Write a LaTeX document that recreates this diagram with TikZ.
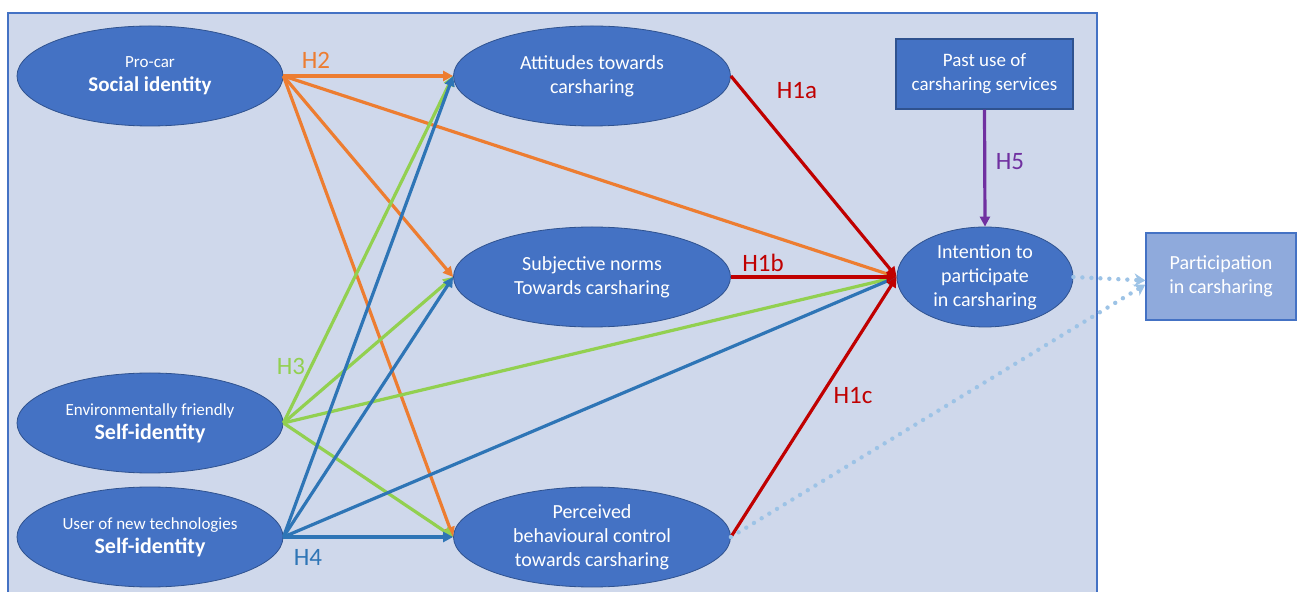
\documentclass[tikz,border=0pt]{standalone}
\usepackage{fontspec}
\setmainfont{Carlito}
\usepackage{xcolor}
\usepackage{tikz}
\usetikzlibrary{shapes.geometric,arrows.meta}

\definecolor{bgblue}{HTML}{CFD8EB}
\definecolor{nodeblue}{HTML}{4472C4}
\definecolor{edgeblue}{HTML}{2F528F}
\definecolor{lightbox}{HTML}{8FAADC}
\definecolor{hyporange}{HTML}{ED7D31}
\definecolor{hypgreen}{HTML}{92D050}
\definecolor{hypblue}{HTML}{2E75B6}
\definecolor{hypred}{HTML}{C00000}
\definecolor{hyppurple}{HTML}{7030A0}
\definecolor{dotblue}{HTML}{9DC3E6}

\begin{document}
\begin{tikzpicture}[x=0.5pt,y=-0.5pt,
        construct/.style={ellipse, fill=nodeblue, draw=edgeblue, line width=0.4pt, text=white,
            align=center, inner sep=0pt, minimum width=133pt, minimum height=50pt,
            font=\fontsize{10}{12}\selectfont},
        boxnode/.style={rectangle, fill=nodeblue, draw=edgeblue, line width=0.6pt, text=white,
            align=center, inner sep=0pt, font=\fontsize{9.5}{12}\selectfont},
        hyp/.style={-{Triangle[length=5pt,width=5pt]}, line width=1.6pt},
        hyplabel/.style={font=\fontsize{12.5}{14}\selectfont, inner sep=0pt},
        dotarrow/.style={-{Stealth[length=5.5pt,width=6.5pt]}, dotblue, line width=2.2pt,
            line cap=round, dash pattern=on 0pt off 4.5pt}]

        % Page size and background panel
        \useasboundingbox (0,0) rectangle (1300,592);
        \draw[fill=bgblue, draw=nodeblue, line width=0.6pt] (8,13) rectangle (1097,610);

        % Identity constructs (left column)
        \node[construct] (SI) at (150,76) {\fontsize{8.5}{11}\selectfont Pro-car\\{\fontsize{10.5}{11}\selectfont\bfseries Social identity}};
        \node[construct] (EF) at (150,423) {\fontsize{8.5}{11}\selectfont Environmentally friendly\\{\fontsize{11}{11}\selectfont\bfseries Self-identity}};
        \node[construct] (UT) at (150,537) {\fontsize{8.5}{11}\selectfont User of new technologies\\{\fontsize{11}{11}\selectfont\bfseries Self-identity}};

        % TPB constructs (middle column)
        \node[construct, minimum width=138.5pt] (AT) at (592,76) {Attitudes towards\\carsharing};
        \node[construct, minimum width=138.5pt] (SN) at (592,277) {Subjective norms\\Towards carsharing};
        \node[construct, minimum width=138.5pt] (PBC) at (592,537) {Perceived\\behavioural control\\towards carsharing};

        % Intention, past use and behaviour
        \node[construct, minimum width=88pt] (IN) at (985,277) {Intention to\\participate\\in carsharing};
        \node[boxnode, minimum width=88.5pt, minimum height=35pt] (PU) at (984.5,74) {Past use of\\carsharing services};
        \node[boxnode, fill=lightbox, draw=nodeblue, minimum width=75pt, minimum height=43.5pt,
            font=\fontsize{10}{12}\selectfont] (PC) at (1221,276.5) {Participation\\in carsharing};

        % Hypotheses H2, H3, H4
        \foreach \target in {AT, SN, IN, PBC} {
            \draw[hyp, hyporange] (SI.east) -- (\target.west);
        }
        \foreach \target in {AT, SN, IN, PBC} {
            \draw[hyp, hypgreen] (EF.east) -- (\target.west);
        }
        \foreach \target in {AT, SN, IN, PBC} {
            \draw[hyp, hypblue] (UT.east) -- (\target.west);
        }

        % Hypotheses H1a-H1c and H5
        \foreach \source in {AT, SN, PBC} {
            \draw[hyp, hypred] (\source.east) -- (IN.west);
        }
        \draw[hyp, hyppurple] (PU.south) -- (IN.north);

        % Dotted links to behaviour
        \draw[dotarrow] (IN.east) -- ([yshift=-2pt]PC.west);
        \draw[dotarrow] (PBC.east) -- ([yshift=-4pt]PC.west);

        % Hypothesis labels
        \node[hyplabel, text=hyporange] (lH2) at (316,60) {H2};
        \node[hyplabel, text=hypgreen] (lH3) at (291,366) {H3};
        \node[hyplabel, text=hypblue] (lH4) at (308,557) {H4};
        \node[hyplabel, text=hypred] (lH1a) at (797,91) {H1a};
        \node[hyplabel, text=hypred] (lH1b) at (763,263) {H1b};
        \node[hyplabel, text=hypred] (lH1c) at (853,396) {H1c};
        \node[hyplabel, text=hyppurple] (lH5) at (1010,162) {H5};
    \end{tikzpicture}
\end{document}
